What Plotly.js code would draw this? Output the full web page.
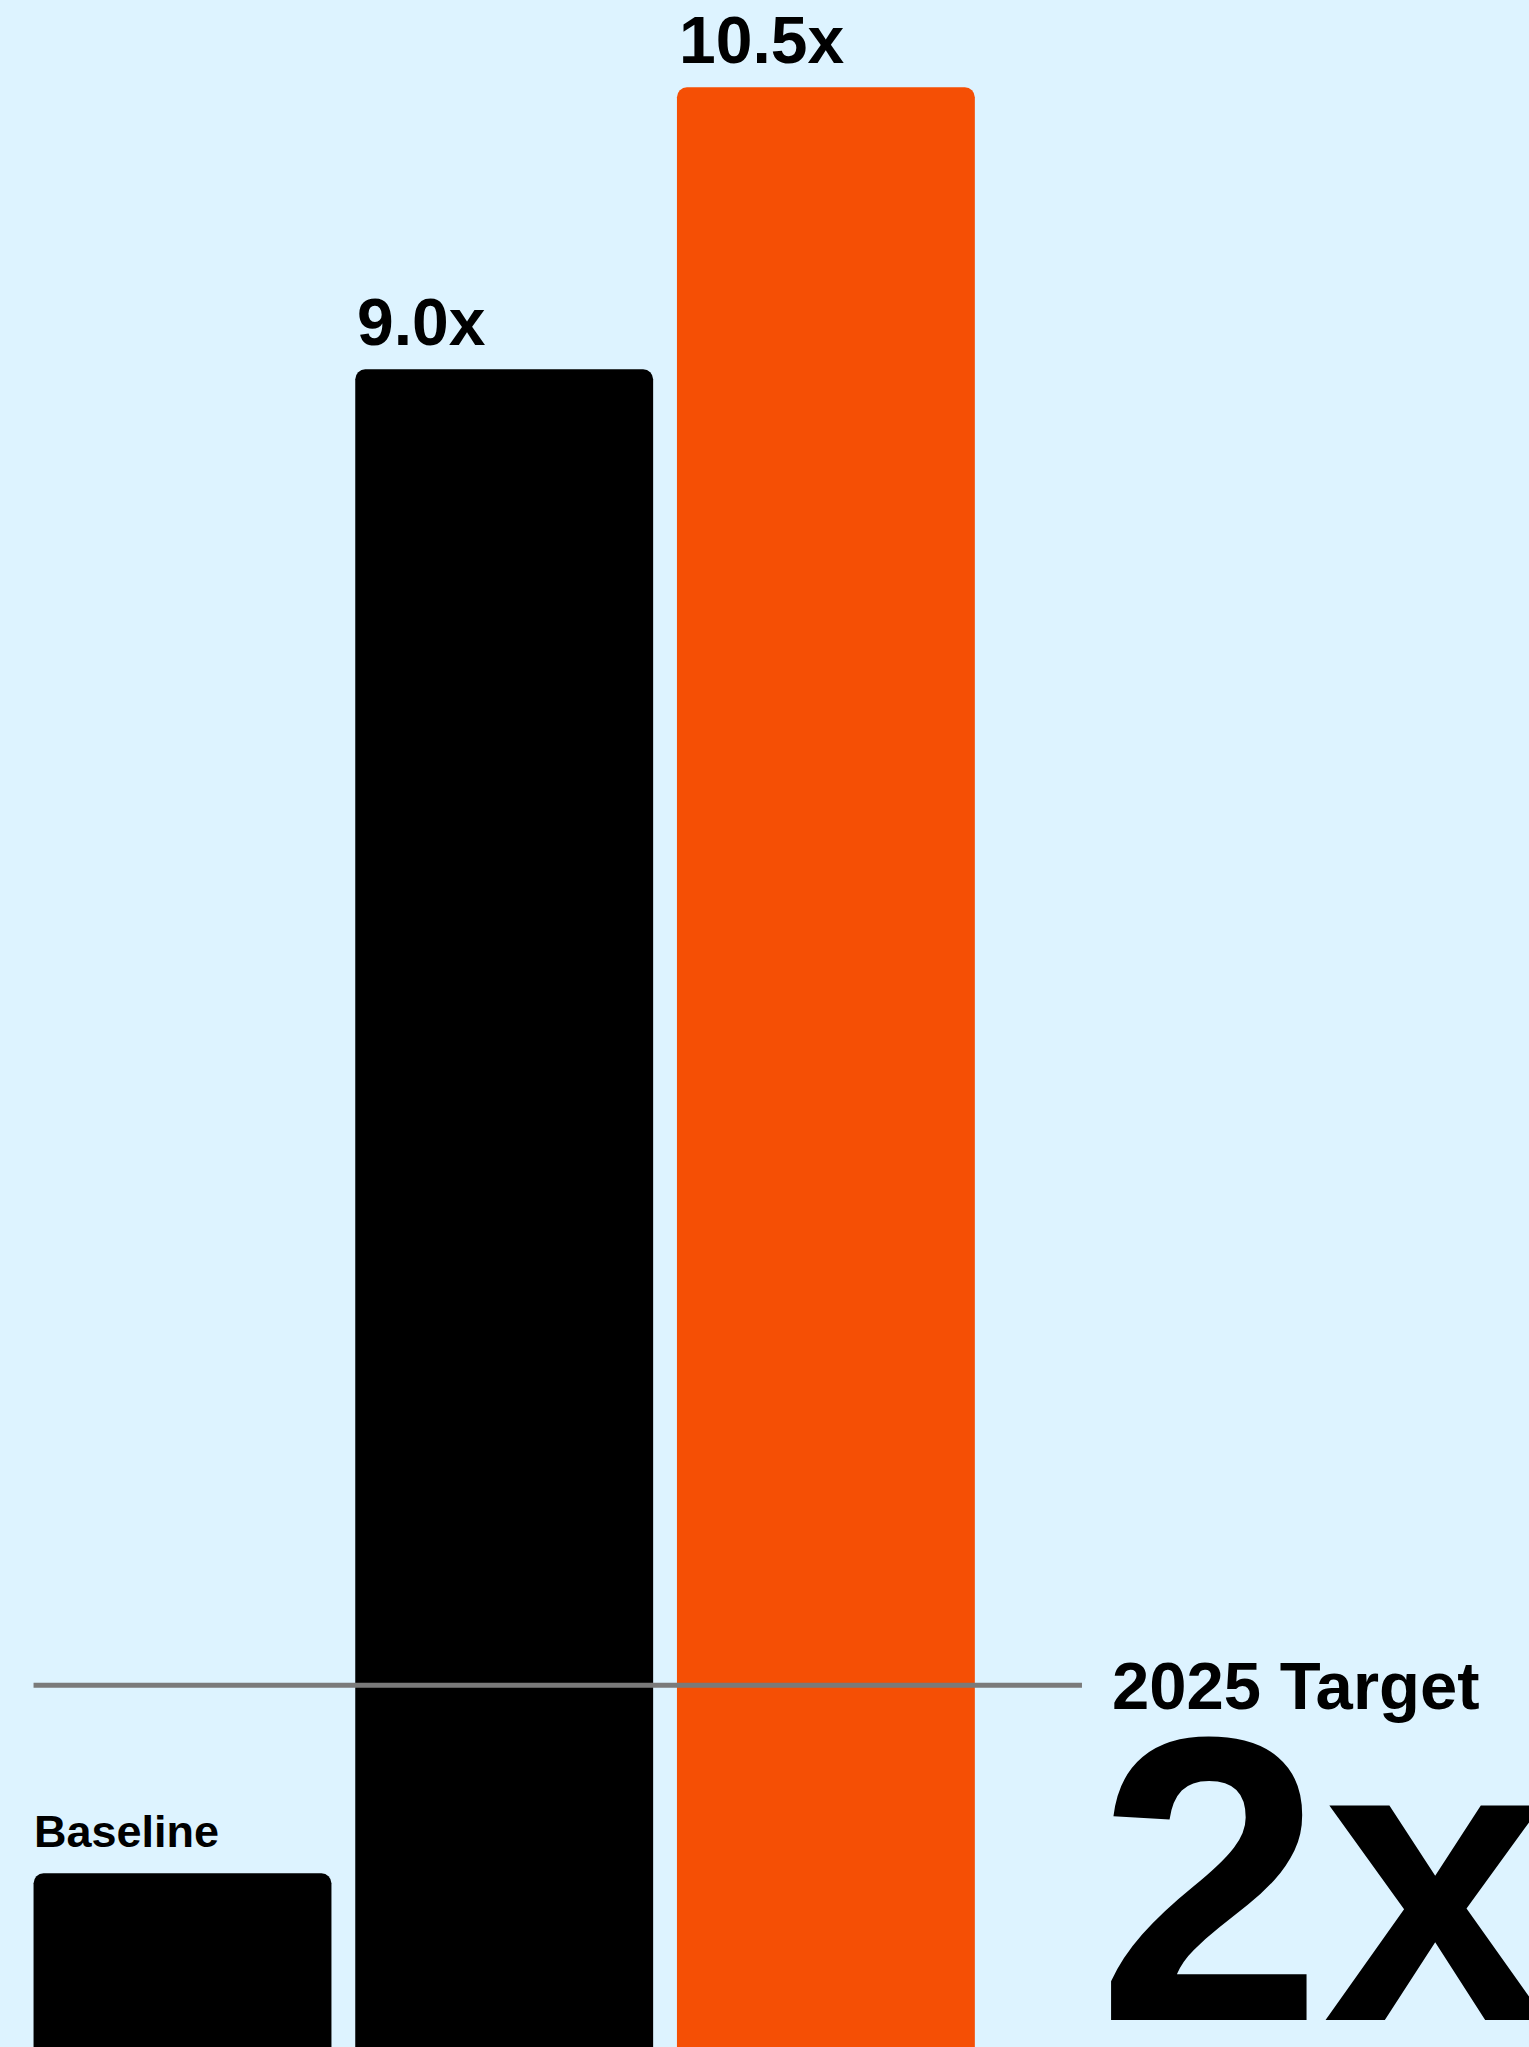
<!DOCTYPE html>
<html>
<head>
<meta charset="utf-8">
<script src="https://cdn.plot.ly/plotly-3.0.1.min.js"></script>
<style>
html,body{margin:0;padding:0;background:#ddf3ff;}
#chart{width:1529px;height:2047px;}
</style>
</head>
<body>
<div id="chart"></div>
<script>
// ---- data ----
const categories = ["Baseline", "Current", "Projected"];
const values = [1.0, 9.0, 10.5];
const valueLabels = ["Baseline", "9.0x", "10.5x"];
const targetLabel = "2025 Target";
const targetValue = 2;
const targetText = "2x";

// ---- styles ----
const barColors = ["#000000", "#000000", "#f54f05"];
const bg = "#ddf3ff";
const FONT = "'Liberation Sans', Arial, Helvetica, sans-serif";
const halfBar = 0.463;

const trace = {
  type: "bar",
  x: categories,
  y: values,
  marker: { color: barColors, cornerradius: 10, line: { width: 0 } },
  hoverinfo: "none"
};

const annotations = categories.map((c, i) => ({
  x: i - halfBar,
  y: values[i],
  xref: "x", yref: "y",
  text: "<b>" + valueLabels[i] + "</b>",
  showarrow: false,
  xanchor: "left", yanchor: "bottom",
  xshift: i === 0 ? -2 : 0,
  yshift: i === 0 ? 14 : 8,
  font: { family: FONT, size: i === 0 ? 45 : 66, color: "#000" }
}));

annotations.push({
  x: 2.892, y: targetValue, xref: "x", yref: "y",
  text: "<b>" + targetLabel + "</b>",
  showarrow: false, xanchor: "left", yanchor: "middle",
  xshift: -3,
  font: { family: FONT, size: 67, color: "#000" }
});
annotations.push({
  x: 2.880, y: targetValue, xref: "x", yref: "y",
  text: "<b>" + targetText + "</b>",
  showarrow: false, xanchor: "left", yanchor: "middle",
  xshift: -14, yshift: -194,
  font: { family: FONT, size: 406, color: "#000" }
});

const layout = {
  width: 1529, height: 2047,
  margin: { l: 0, r: 0, t: 0, b: 0, pad: 0 },
  paper_bgcolor: bg, plot_bgcolor: bg,
  showlegend: false,
  bargap: 0.074,
  xaxis: { type: "category", range: [-0.5673, 4.1856], visible: false, fixedrange: true },
  yaxis: { range: [0.076, 10.964], visible: false, fixedrange: true },
  shapes: [{
    type: "line", xref: "x", yref: "y",
    x0: -halfBar, x1: 2.796, y0: targetValue, y1: targetValue,
    line: { color: "#7a7a7a", width: 5 }, layer: "above"
  }],
  annotations: annotations
};

Plotly.newPlot("chart", [trace], layout, { displayModeBar: false, staticPlot: true });
</script>
</body>
</html>
